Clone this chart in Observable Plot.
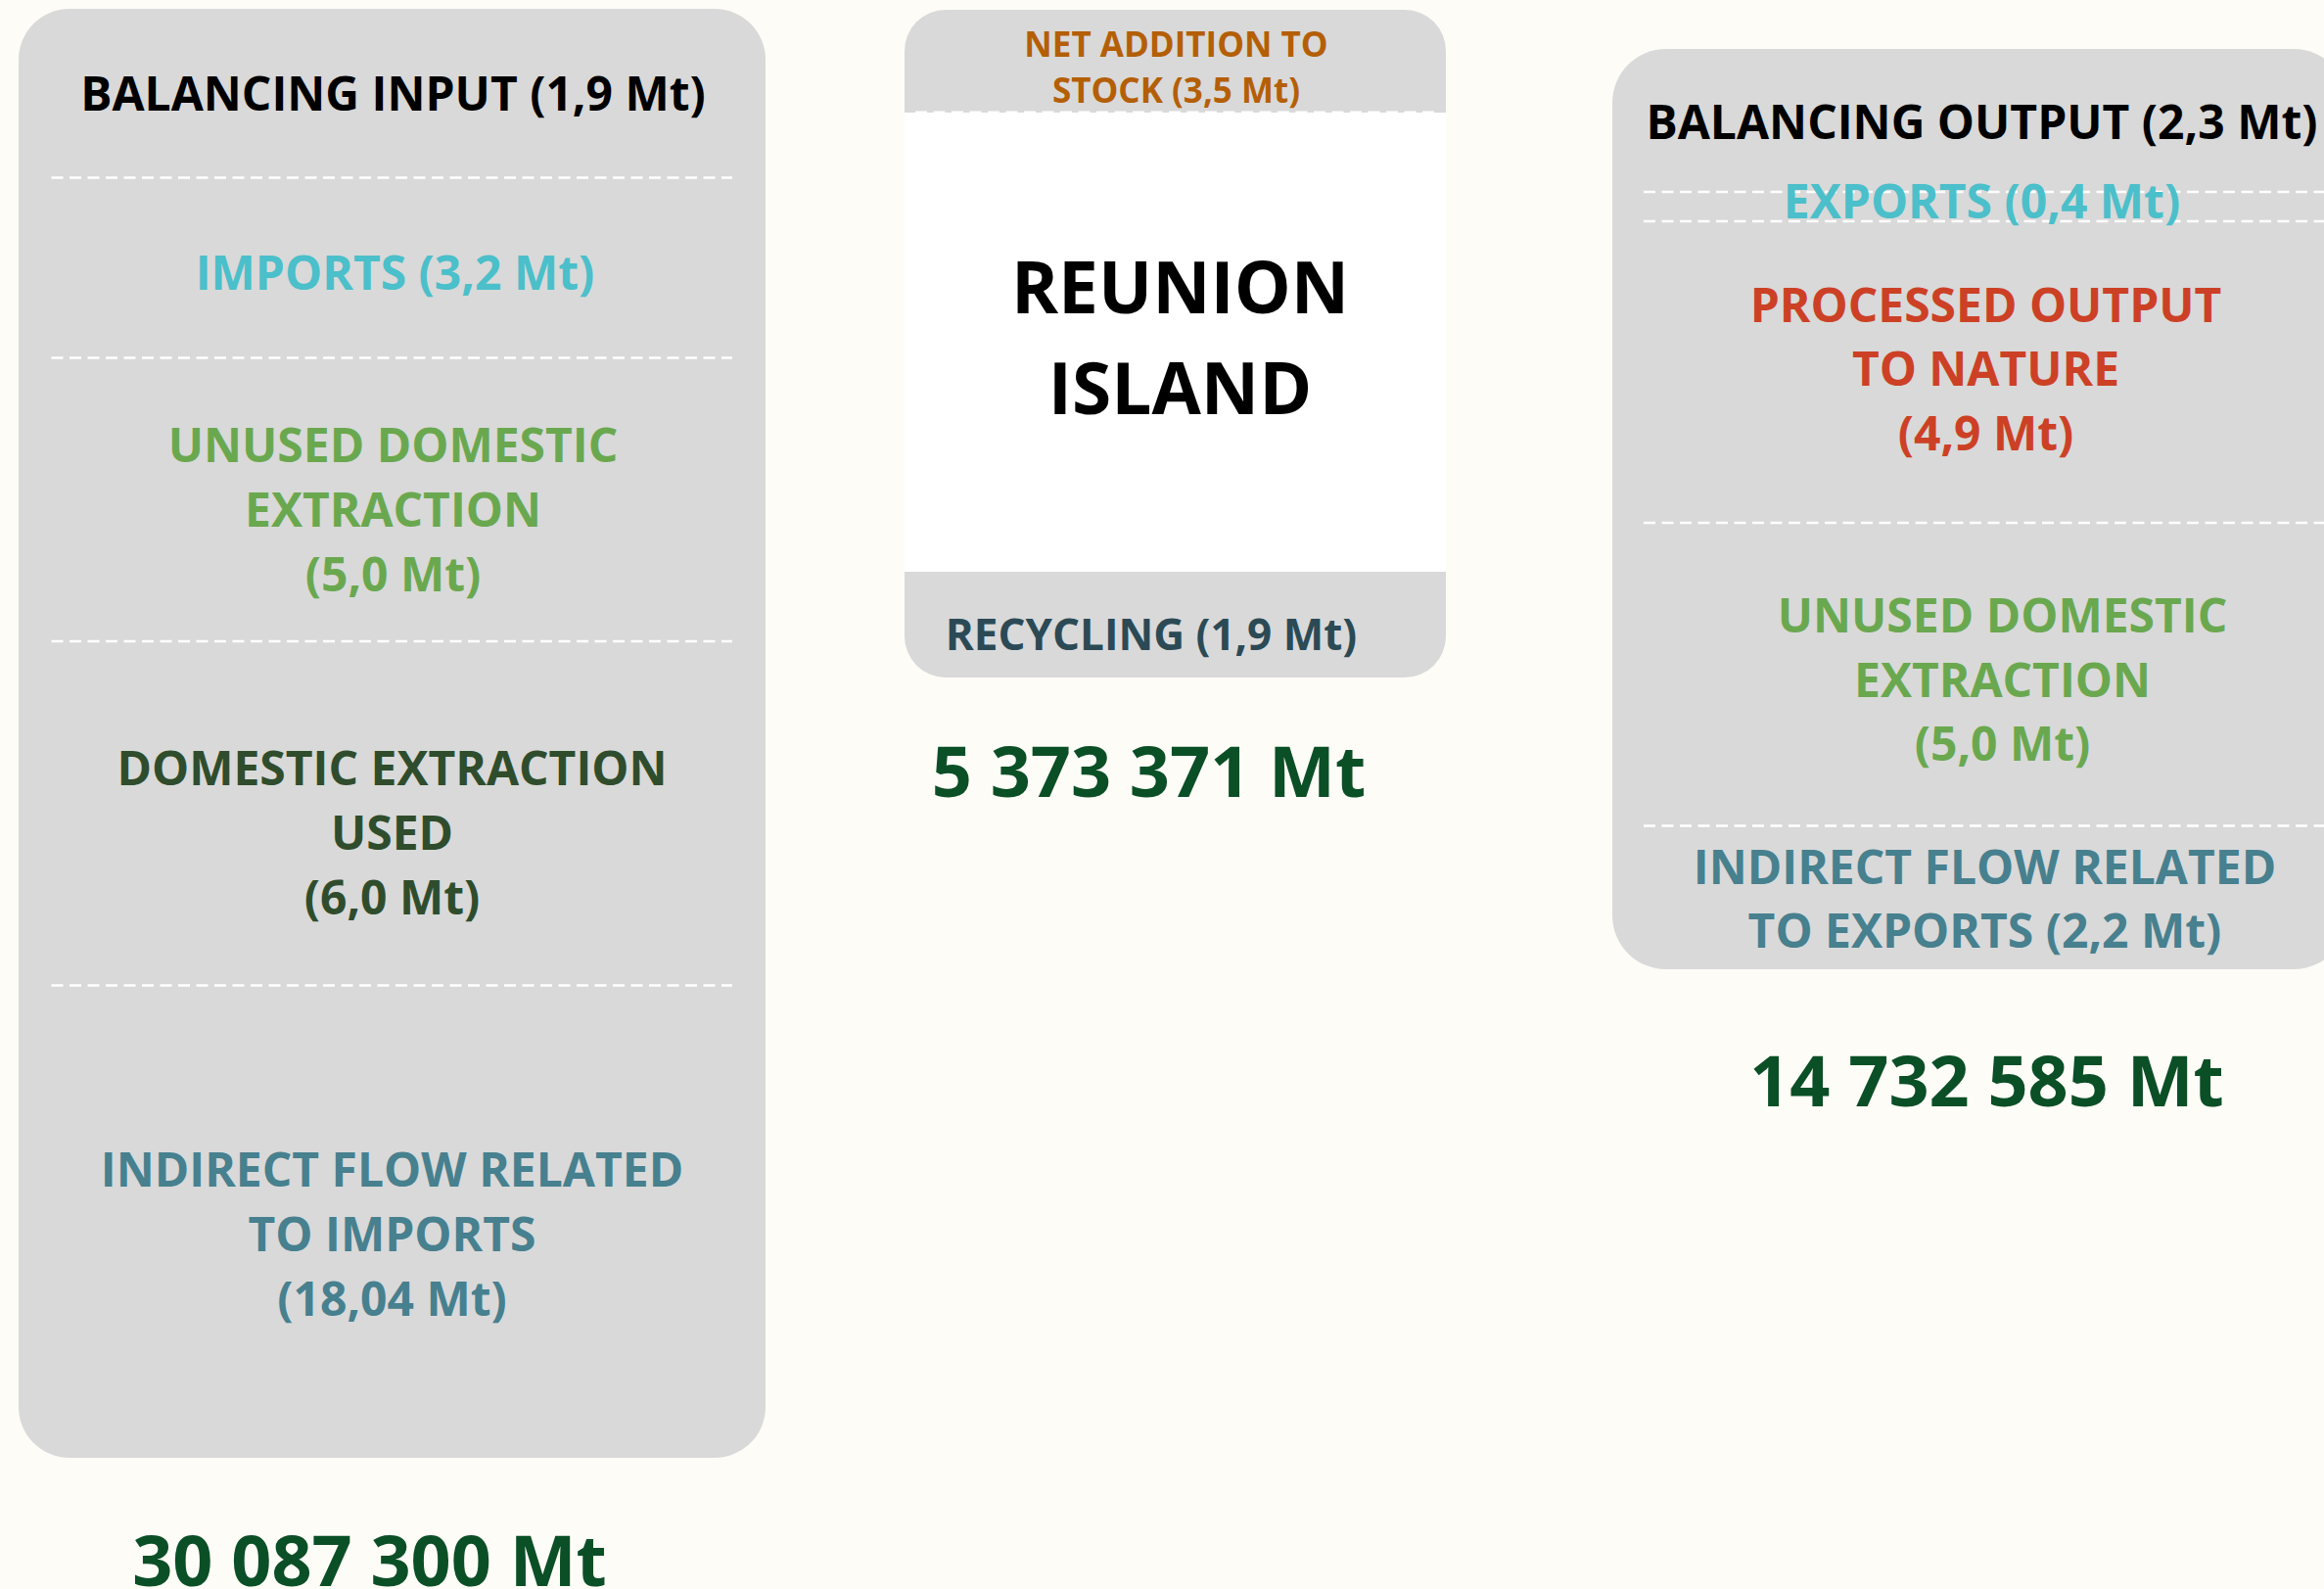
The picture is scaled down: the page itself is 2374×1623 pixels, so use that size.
<!DOCTYPE html>
<html>
<head>
<meta charset="utf-8">
<script src="https://cdn.jsdelivr.net/npm/d3@7"></script>
<script src="https://cdn.jsdelivr.net/npm/@observablehq/plot@0.6"></script>
<style>
  html, body { margin: 0; padding: 0; background: #fefcf7; overflow: hidden; }
  #chart svg { display: block; }
</style>
</head>
<body>
<div id="chart"></div>
<script>
// ---------------- DATA ----------------
const inputCategories = ["BALANCING INPUT", "IMPORTS", "UNUSED DOMESTIC\nEXTRACTION", "DOMESTIC EXTRACTION\nUSED", "INDIRECT FLOW RELATED\nTO IMPORTS"];
const inputValues = [1.9, 3.2, 5.0, 6.0, 18.04];
const outputCategories = ["BALANCING OUTPUT", "EXPORTS", "PROCESSED OUTPUT\nTO NATURE", "UNUSED DOMESTIC\nEXTRACTION", "INDIRECT FLOW RELATED\nTO EXPORTS"];
const outputValues = [2.3, 0.4, 4.9, 5.0, 2.2];
const centreCategories = ["NET ADDITION TO\nSTOCK", "RECYCLING"];
const centreValues = [3.5, 1.9];
const regionName = "REUNION\nISLAND";
const totalNames = ["input", "stock", "output"];
const totalValues = [30087300, 5373371, 14732585];
const unit = "Mt";

// ---------------- STYLE / LAYOUT ----------------
const W = 2374, H = 1623;
const BG = "#fefcf7", PANEL = "#d9d9d9";
const FONT = "'Open Sans', 'Noto Sans', sans-serif";
const inputColors = ["#000000", "#4bbfca", "#6aa84f", "#2f4d2c", "#47808e"];
const outputColors = ["#000000", "#4bbfca", "#cc4125", "#6aa84f", "#47808e"];
const centreColors = ["#b45f06", "#2b4a55"];
const totalColor = "#0b4f26";
const inputJoin = [" ", " ", "\n", "\n", "\n"];
const outputJoin = [" ", " ", "\n", "\n", " "];
const inputX = [401, 403, 401, 400, 400];
const inputY = [91, 274, 516, 846, 1256];
const outputX = [2024, 2024, 2028, 2045, 2027];
const outputY = [120.5, 202, 373, 690.5, 914];
const centreX = [1201, 1175.5];
const centreY = [65.5, 647];
const regionX = 1205, regionY = 338;
const totalX = [377, 1173, 2029];
const totalY = [1594, 788, 1104];
const panelBoxes = [
  {x1: 19, x2: 782, y1: 9, y2: 1489, r: 52},
  {x1: 924, x2: 1477, y1: 10, y2: 692, r: 42},
  {x1: 1647, x2: 2398, y1: 50, y2: 990, r: 55}
];
const coreBox = [{x1: 924, x2: 1477, y1: 115, y2: 584}];
const leftDividers = [181, 365, 654.5, 1006];
const rightDividers = [195.5, 225.6, 533.5, 843];

// ---------------- FORMATTING ----------------
const fmtVal = v => (Number.isInteger(v) ? v.toFixed(1) : String(v)).replace(".", ",");
const fmtTotal = d3.formatLocale({decimal: ",", thousands: " ", grouping: [3], currency: ["", ""]}).format(",d");
const label = (c, v, j) => `${c}${j}(${fmtVal(v)} ${unit})`;

const inputRows = inputCategories.map((c, i) => ({text: label(c, inputValues[i], inputJoin[i]), x: inputX[i], y: inputY[i], color: inputColors[i]}));
const outputRows = outputCategories.map((c, i) => ({text: label(c, outputValues[i], outputJoin[i]), x: outputX[i], y: outputY[i], color: outputColors[i]}));
const stockRow = [{text: label(centreCategories[0], centreValues[0], " "), x: centreX[0], y: centreY[0], color: centreColors[0]}];
const recycleRow = [{text: label(centreCategories[1], centreValues[1], " "), x: centreX[1], y: centreY[1], color: centreColors[1]}];
const totalRows = totalNames.map((n, i) => ({text: `${fmtTotal(totalValues[i])} ${unit}`, x: totalX[i], y: totalY[i]}));

const textOpts = (size, lh) => ({x: "x", y: "y", text: "text", fill: "color", fontSize: size, lineHeight: lh / size, fontFamily: FONT, fontWeight: 700, textAnchor: "middle"});

const chart = Plot.plot({
  width: W, height: H,
  margin: 0,
  x: {domain: [0, W], range: [0, W], axis: null},
  y: {domain: [0, H], range: [0, H], axis: null},
  color: {type: "identity"},
  style: {background: BG, overflow: "hidden"},
  marks: [
    ...panelBoxes.map(b => Plot.rect([b], {x1: "x1", x2: "x2", y1: "y1", y2: "y2", fill: PANEL, rx: b.r, clip: true})),
    Plot.rect(coreBox, {x1: "x1", x2: "x2", y1: "y1", y2: "y2", fill: "#ffffff"}),
    Plot.ruleY([coreBox[0].y1 - 1], {y: d => d, x1: () => 935, x2: () => 1466, stroke: "#ffffff", strokeWidth: 2, strokeDasharray: "12,6.5"}),
    Plot.ruleY(leftDividers, {y: d => d, x1: () => 52.5, x2: () => 748, stroke: "#ffffff", strokeWidth: 2.5, strokeDasharray: "12,6.5"}),
    Plot.ruleY(rightDividers, {y: d => d, x1: () => 1679, x2: () => W, stroke: "#ffffff", strokeWidth: 2.5, strokeDasharray: "12,6.5"}),
    Plot.text(inputRows, textOpts(48, 66)),
    Plot.text(outputRows, textOpts(48, 65.5)),
    Plot.text(stockRow, textOpts(35, 47)),
    Plot.text(recycleRow, textOpts(44, 50)),
    Plot.text([{text: regionName, x: regionX, y: regionY, color: "#000000"}], textOpts(73, 103)),
    Plot.text(totalRows, {...textOpts(72, 80), fill: totalColor})
  ]
});
document.getElementById("chart").appendChild(chart);
</script>
</body>
</html>
